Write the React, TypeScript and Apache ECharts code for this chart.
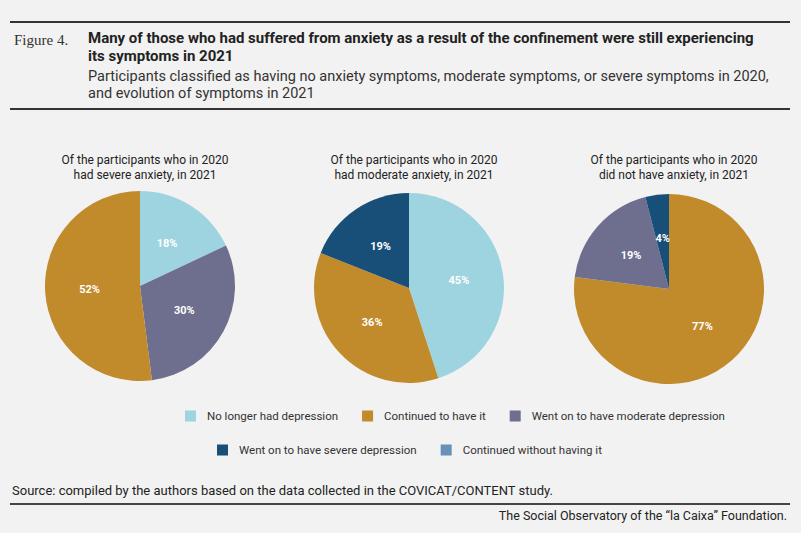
import { useEffect, useRef } from "react";
import * as echarts from "echarts";

const categories = [
  "No longer had depression",
  "Continued to have it",
  "Went on to have moderate depression",
  "Went on to have severe depression",
  "Continued without having it",
];
const colors = ["#9dd4e0", "#c18a2b", "#6e6e8e", "#174f78", "#6891b7"];

const pieTitles = [
  "Of the participants who in 2020\nhad severe anxiety, in 2021",
  "Of the participants who in 2020\nhad moderate anxiety, in 2021",
  "Of the participants who in 2020\ndid not have anxiety, in 2021",
];
// indices into categories, in clockwise order from 12 o'clock
const severeCats = [0, 2, 1];
const severeVals = [18, 30, 52];
const moderateCats = [0, 1, 3];
const moderateVals = [45, 36, 19];
const noneCats = [1, 2, 3];
const noneVals = [77, 19, 4];

const centers = [[140, 286], [409, 288], [669, 289]];

export default function App() {
  const ref = useRef<HTMLDivElement>(null);

  useEffect(() => {
    if (!ref.current) return;
    const chart = echarts.init(ref.current, null, { renderer: "svg" });
    const font = "Roboto, 'Liberation Sans', sans-serif";
    const pies = [
      [severeCats, severeVals],
      [moderateCats, moderateVals],
      [noneCats, noneVals],
    ];
    const series: any[] = pies.map(([cats, vals], i) => ({
      type: "pie",
      center: centers[i],
      radius: 95,
      startAngle: 90,
      clockwise: true,
      silent: true,
      label: {
        position: "inside",
        formatter: "{c}%",
        color: "#fff",
        fontFamily: font,
        fontWeight: "bold",
        fontSize: 11,
      },
      labelLine: { show: false },
      data: (cats as number[]).map((c, k) => ({
        name: categories[c],
        value: (vals as number[])[k],
        itemStyle: { color: colors[c] },
      })),
    }));
    // legend-only entry
    series.push({
      type: "pie",
      center: [-100, -100],
      radius: 0,
      silent: true,
      label: { show: false },
      data: [{ name: categories[4], value: 1, itemStyle: { color: colors[4] } }],
    });

    const legendBase = {
      itemWidth: 11,
      itemHeight: 11,
      itemGap: 24,
      icon: "rect",
      selectedMode: false,
      textStyle: { fontFamily: font, fontSize: 11.5, color: "#333", padding: [0, 0, 0, 6] },
    };

    chart.setOption({
      animation: false,
      backgroundColor: "#f2f2f2",
      legend: [
        { ...legendBase, data: categories.slice(0, 3), left: 180, top: 405 },
        { ...legendBase, data: categories.slice(3), left: 212, top: 439 },
      ],
      title: pieTitles.map((t, i) => ({
        text: t,
        left: centers[i][0],
        top: 147,
        textAlign: "center",
        textStyle: { fontFamily: font, fontSize: 12, fontWeight: "normal", color: "#222", lineHeight: 15 },
      })),
      graphic: [
        { type: "rect", shape: { x: 10, y: 21, width: 780, height: 2 }, style: { fill: "#333" } },
        { type: "rect", shape: { x: 10, y: 108, width: 780, height: 2 }, style: { fill: "#333" } },
        { type: "rect", shape: { x: 10, y: 503, width: 780, height: 2 }, style: { fill: "#444" } },
        {
          type: "text", x: 14, y: 32,
          style: { text: "Figure 4.", font: "15px 'Liberation Serif', serif", fill: "#333" },
        },
        {
          type: "text", x: 88, y: 29,
          style: {
            text: "Many of those who had suffered from anxiety as a result of the confinement were still experiencing\nits symptoms in 2021",
            font: "bold 15px 'Liberation Sans Narrow', 'Roboto', sans-serif",
            lineHeight: 18, fill: "#222",
          },
        },
        {
          type: "text", x: 88, y: 68,
          style: {
            text: "Participants classified as having no anxiety symptoms, moderate symptoms, or severe symptoms in 2020,\nand evolution of symptoms in 2021",
            font: "14.5px 'Liberation Sans Narrow', 'Roboto', sans-serif",
            lineHeight: 17, fill: "#333",
          },
        },
        {
          type: "text", x: 12, y: 484,
          style: {
            text: "Source: compiled by the authors based on the data collected in the COVICAT/CONTENT study.",
            font: "13px Roboto, sans-serif", fill: "#222",
          },
        },
        {
          type: "text", right: 14, y: 509,
          style: {
            text: "The Social Observatory of the \u201cla Caixa\u201d Foundation.",
            font: "12.5px Roboto, sans-serif", fill: "#222",
          },
        },
      ],
      series,
    });
    return () => chart.dispose();
  }, []);

  return <div ref={ref} style={{ width: 801, height: 533, position: "absolute", left: 0, top: 0 }} />;
}
